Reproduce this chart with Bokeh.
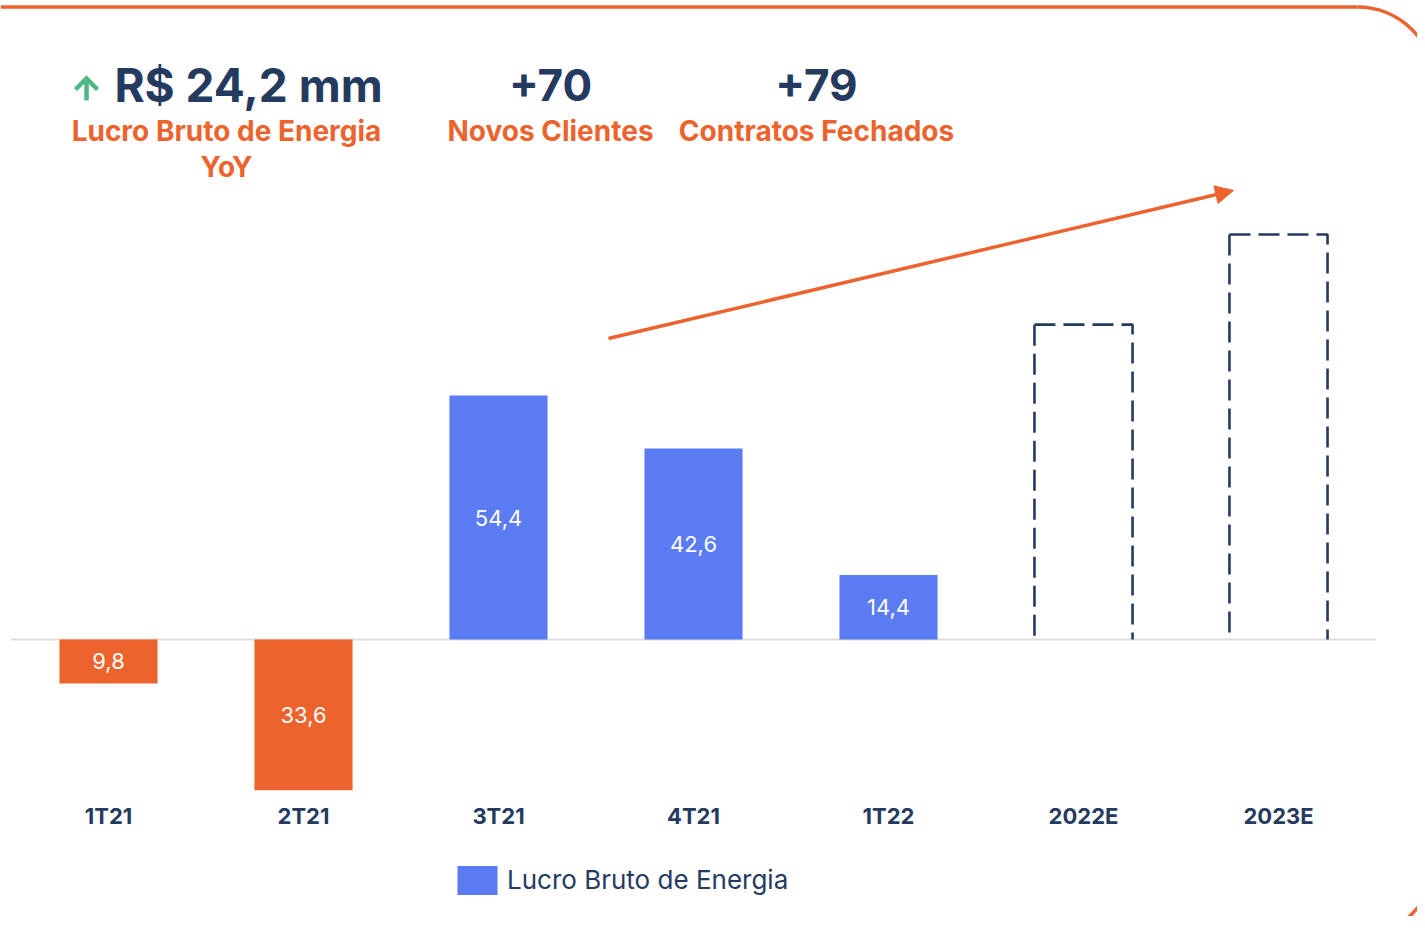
import math
from bokeh.plotting import figure
from bokeh.models import Range1d, ColumnDataSource, Arrow, NormalHead, Legend, LegendItem
from bokeh.core.properties import value
from bokeh.embed import file_html
from bokeh.resources import INLINE

# ---- data ----
categories = ["1T21", "2T21", "3T21", "4T21", "1T22", "2022E", "2023E"]
actual_categories = ["1T21", "2T21", "3T21", "4T21", "1T22"]
actual_values = [-9.8, -33.6, 54.4, 42.6, 14.4]
estimate_categories = ["2022E", "2023E"]
estimate_values = [70.2, 90.3]
legend_label = "Lucro Bruto de Energia"
kpi_values = ["R$ 24,2 mm", "+70", "+79"]
kpi_labels = ["Lucro Bruto de Energia", "Novos Clientes", "Contratos Fechados"]
kpi_sub = "YoY"

# ---- style ----
ORANGE = "#EC632E"
BLUE = "#5A7BF2"
NAVY = "#253A5F"
GREEN = "#4DB882"
GRAY = "#DEDEDA"
FONT = value("Inter")

W, H = 1417, 916
PX0, UX = 108.0, 195.0     # pixel x of first category, px per category
PY0, UY = 639.0, 4.485     # pixel y of zero, px per unit


def dx(px):
    return (px - PX0) / UX


def dy(py):
    return (PY0 - py) / UY


p = figure(width=W, height=H, x_range=Range1d(dx(0), dx(W)), y_range=Range1d(dy(H), dy(0)),
           output_backend="svg", toolbar_location=None, min_border=0,
           x_axis_type=None, y_axis_type=None, outline_line_color=None,
           background_fill_color="white", border_fill_color="white")
p.grid.visible = False

idx = {c: i for i, c in enumerate(categories)}
BW = 0.503

# zero line
p.segment(x0=[-0.5], y0=[0], x1=[len(categories) - 0.5], y1=[0], line_color=GRAY, line_width=2)

# actual bars split by sign
pos = [(idx[c], v) for c, v in zip(actual_categories, actual_values) if v >= 0]
neg = [(idx[c], v) for c, v in zip(actual_categories, actual_values) if v < 0]
src_pos = ColumnDataSource(dict(x=[a for a, _ in pos], top=[b for _, b in pos],
                                lab=[f"{abs(b):.1f}".replace(".", ",") for _, b in pos],
                                mid=[b / 2 for _, b in pos]))
src_neg = ColumnDataSource(dict(x=[a for a, _ in neg], top=[b for _, b in neg],
                                lab=[f"{abs(b):.1f}".replace(".", ",") for _, b in neg],
                                mid=[b / 2 for _, b in neg]))
blue_r = p.vbar(x="x", top="top", bottom=0, width=BW, source=src_pos, fill_color=BLUE, line_color=None)
p.vbar(x="x", top="top", bottom=0, width=BW, source=src_neg, fill_color=ORANGE, line_color=None)

for s in (src_pos, src_neg):
    p.text(x="x", y="mid", text="lab", source=s, text_color="white", text_font=FONT,
           text_font_size="22px", text_align="center", text_baseline="middle")

# estimate bars: dashed outlines (open at the bottom)
xs, ys = [], []
for c, v in zip(estimate_categories, estimate_values):
    x = idx[c]
    xs.append([x - BW / 2, x - BW / 2]); ys.append([v, 0])
    xs.append([x - BW / 2, x + BW / 2, x + BW / 2]); ys.append([v, v, 0])
p.multi_line(xs=xs, ys=ys, line_color=NAVY, line_width=2.6, line_dash="21 8")

# category labels
p.text(x=list(range(len(categories))), y=[dy(815.5)] * len(categories), text=categories,
       text_color=NAVY, text_font=FONT, text_font_style="bold", text_font_size="22px",
       text_align="center", text_baseline="middle")

# trend arrow
p.add_layout(Arrow(x_start=dx(608), y_start=dy(338), x_end=dx(1233), y_end=dy(190),
                   line_color=ORANGE, line_width=3.5,
                   end=NormalHead(size=18, fill_color=ORANGE, line_color=ORANGE, line_width=1)))

# KPI header
p.text(x=[dx(248)], y=[dy(84.5)], text=kpi_values[:1], text_color=NAVY, text_font=FONT,
       text_font_style="bold", text_font_size="46px", text_align="center", text_baseline="middle")
p.text(x=[dx(550), dx(816)], y=[dy(84.5)] * 2, text=kpi_values[1:], text_color=NAVY, text_font=FONT,
       text_font_style="bold", text_font_size="44px", text_align="center", text_baseline="middle")
p.text(x=[dx(226), dx(550), dx(816)], y=[dy(130)] * 3, text=kpi_labels, text_color=ORANGE, text_font=FONT,
       text_font_style="bold", text_font_size="28px", text_align="center", text_baseline="middle")
p.text(x=[dx(226)], y=[dy(166)], text=[kpi_sub], text_color=ORANGE, text_font=FONT,
       text_font_style="bold", text_font_size="28px", text_align="center", text_baseline="middle")
# green up-arrow icon
p.multi_line(xs=[[dx(86), dx(86)], [dx(75), dx(86), dx(97)]],
             ys=[[dy(100), dy(79)], [dy(89), dy(78), dy(89)]],
             line_color=GREEN, line_width=4.5, line_join="miter", line_cap="butt")

# decorative rounded frame (top-right / bottom-right corners)
R = 77
TOPY = 6.5
p.segment(x0=[dx(0)], y0=[dy(TOPY)], x1=[dx(1357)], y1=[dy(TOPY)], line_color=ORANGE, line_width=3.5)
p.arc(x=[dx(1357)], y=[dy(TOPY + R)], radius=R, radius_units="screen",
      start_angle=0, end_angle=math.pi / 2, line_color=ORANGE, line_width=3.5)
p.arc(x=[dx(1357)], y=[dy(859)], radius=R, radius_units="screen",
      start_angle=-math.pi / 2, end_angle=0, line_color=ORANGE, line_width=3.5)

# legend
legend = Legend(items=[LegendItem(label=legend_label, renderers=[blue_r])], location=(452, 18.5),
                orientation="horizontal", border_line_color=None, background_fill_alpha=0,
                padding=0, margin=0, glyph_width=50, glyph_height=36, label_standoff=5,
                label_text_font_size="26px", label_text_color=NAVY, label_text_font="Inter")
p.add_layout(legend)

open("out.html", "w").write(file_html(p, INLINE))
